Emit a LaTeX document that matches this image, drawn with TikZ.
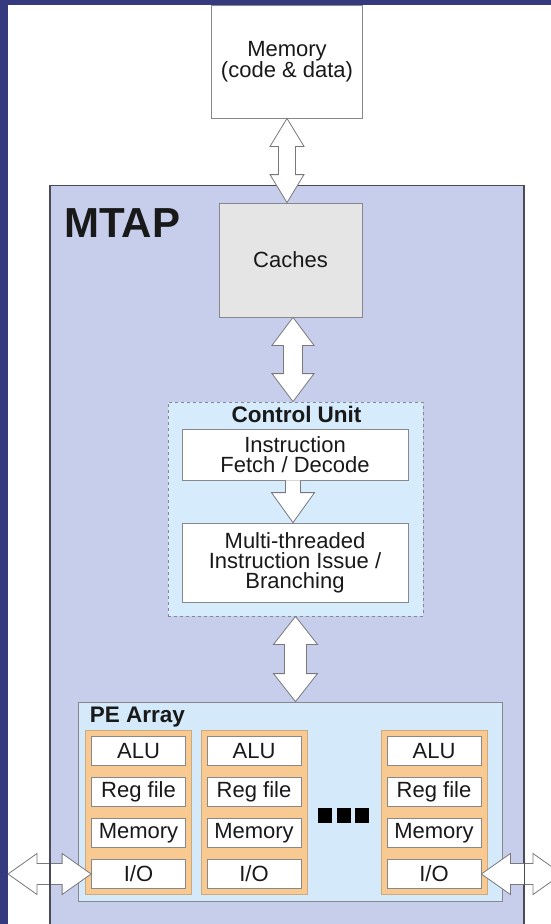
\documentclass[tikz,border=0pt]{standalone}
\usepackage{fontspec}
\setmainfont{Liberation Sans}
\usetikzlibrary{calc}
\definecolor{navy}{RGB}{53,57,125}
\definecolor{mtapfill}{RGB}{198,206,236}
\definecolor{mtapline}{RGB}{75,75,85}
\definecolor{cachefill}{RGB}{229,229,229}
\definecolor{cufill}{RGB}{214,236,252}
\definecolor{pefill}{RGB}{212,234,251}
\definecolor{orfill}{RGB}{248,202,145}
\definecolor{orline}{RGB}{205,170,125}
\definecolor{boxgray}{RGB}{135,135,140}
\definecolor{arrgray}{RGB}{120,120,125}
\definecolor{txt}{RGB}{25,25,25}
\newcommand\vdarrow[4]{%
  \draw[arr] (#1) -- ++(#3,28) -- ++({#4-#3},0) -- ($(#2)+(#4,-28)$) -- ++({#3-#4},0)
    -- (#2) -- ++(-#3,-28) -- ++({#3-#4},0) -- ($(#1)+(-#4,28)$) -- ++({#4-#3},0) -- cycle;}
\newcommand\hdarrow[2]{%
  \draw[arr] (#1) -- ++(29,-20.5) -- ++(0,10) -- ($(#2)+(-29,-10.5)$) -- ++(0,-10)
    -- (#2) -- ++(-29,20.5) -- ++(0,-10) -- ($(#1)+(29,10.5)$) -- ++(0,10) -- cycle;}
\begin{document}
\begin{tikzpicture}[x=1pt,y=-1pt,
  box/.style={draw=boxgray, line width=0.8pt, fill=white, inner sep=0pt, align=center,
    font=\fontsize{22}{20}\selectfont, text=txt},
  arr/.style={draw=arrgray, fill=white, line width=0.8pt, line join=miter},
  pecol/.style={draw=orline, fill=orfill, line width=0.8pt, minimum width=106pt, minimum height=164pt, inner sep=0pt},
  pebox/.style={box, minimum width=94pt, minimum height=29pt},
  dot/.style={fill=black, minimum width=14pt, minimum height=15pt, inner sep=0pt}]
\useasboundingbox (0,0) rectangle (551,924);
\clip (0,0) rectangle (551,924);
% background
\fill[navy] (0,0) rectangle (551,924);
\fill[white] (8,5) rectangle (551,924);
% MTAP
\node[draw=mtapline, fill=mtapfill, line width=1.4pt, minimum width=473pt, minimum height=770pt,
  anchor=north west, inner sep=0pt] (mtap) at (50,185) {};
\node[anchor=base west, font=\fontsize{42}{42}\selectfont\bfseries, text=txt, inner sep=0pt] (mtaplbl) at (64,237) {MTAP};
% memory
\node[box, minimum width=151pt, minimum height=113pt] (mem) at (287,61.5) {Memory\\(code \& data)};
% caches
\node[box, fill=cachefill, minimum width=143pt, minimum height=114pt] (cache) at (290.5,260) {Caches};
\vdarrow{mem.south}{mem.south |- cache.north}{17}{8.5}
% control unit
\node[draw=boxgray, dashed, fill=cufill, line width=0.8pt, minimum width=255pt, minimum height=214pt, inner sep=0pt] (cu) at (295.5,509) {};
\coordinate (a2) at ($(cache.south)+(2.5,0)$);
\vdarrow{a2}{a2 |- cu.north}{21}{9.5}
\node[anchor=base, font=\fontsize{22.5}{22.5}\selectfont\bfseries, text=txt, inner sep=0pt] (culbl) at ($(cu.north)+(1,21)$) {Control Unit};
\node[box, minimum width=226pt, minimum height=51pt] (fetch) at (295,454.5) {Instruction\\Fetch / Decode};
\node[box, minimum width=226pt, minimum height=79pt] (multi) at (295,562.5) {Multi-threaded\\Instruction Issue /\\Branching};
\coordinate (ft) at ($(fetch.south)+(-2,0)$);
\coordinate (fb) at (ft |- multi.north);
\draw[arr] ($(ft)+(-7.5,0)$) -- ($(fb)+(-7.5,-30)$) -- ++(-14,0) -- (fb) -- ++(21.5,-30) -- ++(-14,0) -- ($(ft)+(7.5,0)$);
% PE array
\node[draw=boxgray, fill=pefill, line width=0.8pt, minimum width=424pt, minimum height=199pt, inner sep=0pt] (pe) at (290,801.5) {};
\vdarrow{cu.south}{cu.south |- pe.north}{22}{11}
\node[anchor=base west, font=\fontsize{22.5}{22.5}\selectfont\bfseries, text=txt, inner sep=0pt] (pelbl) at ($(pe.north west)+(12,21)$) {PE Array};
\foreach \c/\x in {1/138.5, 2/254, 3/434} {
  \node[pecol] (col\c) at (\x,812) {};
  \node[pebox] (alu\c) at (\x,751) {ALU};
  \node[pebox] (reg\c) at (\x,792) {Reg file};
  \node[pebox] (mm\c) at (\x,833) {Memory};
  \node[pebox] (io\c) at (\x,874) {I/O};
}
\node[dot] (d1) at (325,815.5) {};
\node[dot] (d2) at (343.5,815.5) {};
\node[dot] (d3) at (362,815.5) {};
% side arrows
\coordinate (lft) at (8,0);
\coordinate (rgt) at (562,0);
\hdarrow{io1.west -| lft}{io1.west}
\hdarrow{io3.east}{io3.east -| rgt}
\draw[mtapline, line width=1.4pt] (mtap.north west) -- (mtap.south west);
\draw[mtapline, line width=1.4pt] (mtap.north east) -- (mtap.south east);
\end{tikzpicture}
\end{document}
